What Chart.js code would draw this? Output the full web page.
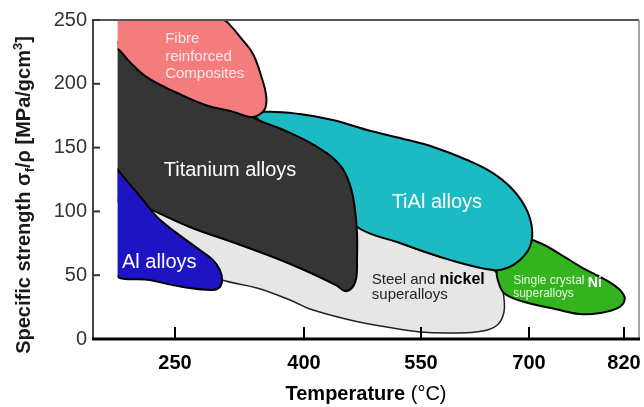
<!DOCTYPE html>
<html>
<head>
<meta charset="utf-8">
<script src="https://cdn.jsdelivr.net/npm/chart.js@4.4.1/dist/chart.umd.min.js"></script>
<style>
html,body{margin:0;padding:0;background:#fff;}
canvas{display:block;}
</style>
</head>
<body>
<canvas id="c" width="644" height="407"></canvas>
<script>
// ---------------- DATA (temperature in °C, specific strength in MPa/gcm³) ----------------
const X_TICKS = [250, 400, 550, 700, 820];
const Y_TICKS = [0, 50, 100, 150, 200, 250];
const X_MIN = 150, X_MAX = 840;
const Y_MIN = 0, Y_MAX = 250;
const LEFT_EDGE = 180;   // the regions are cut off at this temperature

// Fibre reinforced composites
const compositesT = [176, 306, 314, 329, 341, 351, 356, 355, 347, 337, 318, 287, 252, 216, 195, 182, 176, 176];
const compositesS = [250, 250, 246, 234, 223, 204.5, 191, 181, 175.5, 174, 178, 183, 193, 205, 217, 226.5, 228, 250];

// Aluminium alloys
const alT = [176, 192.7, 211, 228, 252, 279, 294, 302.3, 304.7, 301, 293, 259.3, 219.5, 176, 176];
const alS = [136, 123, 109, 95.6, 83, 69.7, 62, 54, 45.5, 40, 38.4, 40.8, 46.2, 52.5, 136];

// Titanium alloys
const titaniumT = [176, 314, 343, 375.6, 417, 446, 459, 465, 468, 468, 467, 461.5, 452.6, 441, 384, 326, 267, 222, 176, 176];
const titaniumS = [234, 187, 173, 164, 150.5, 136.4, 120.7, 103.4, 83, 62, 47.8, 40, 37.6, 42.3, 58.8, 73.7, 87.8, 101, 113, 234];

// TiAl alloys
const tialT = [343, 354.7, 395, 437, 481, 523, 567, 614, 650, 678, 697, 704, 701, 687.5, 669.4, 650, 590, 523, 468, 420, 343];
const tialS = [174.8, 178, 176.3, 171.6, 163.8, 157.5, 150.5, 140.3, 130, 116.8, 101, 85.4, 72, 62, 55.6, 54, 62, 75.2, 87.8, 116.8, 174.8];

// Single crystal Ni superalloys
const niT = [666.7, 695.6, 714, 739, 768, 795, 814, 821, 813, 790, 764, 733, 694, 666.7, 658, 655.6, 666.7];
const niS = [60.5, 77.6, 75.2, 66.6, 55.6, 47, 39, 31.3, 24.5, 20.4, 19.6, 23.5, 29, 35.3, 43.9, 54, 60.5];

// Steel and nickel superalloys
const steelT = [337, 461.5, 523, 590, 650, 660, 665, 665, 656, 636, 594.4, 548.7, 506, 459, 407.7, 383.7, 345.3, 304.7, 259, 195, 207, 337];
const steelS = [109, 89.3, 75.2, 62, 54, 46.2, 33, 20.4, 11, 6.3, 4.7, 5.5, 9.4, 14.9, 23.5, 30.6, 40, 46.2, 58, 97, 124.6, 109];

// ---------------- scale: hand-drawn (uneven) temperature axis ----------------
const AXIS_STOPS = [150, 250, 400, 550, 700, 820, 840];
const AXIS_STOP_FRAC = [0, 0.1502, 0.3864, 0.6007, 0.7985, 0.9725, 1];

function interp(v, from, to) {
  let i = 1;
  while (i < from.length - 1 && v > from[i]) i++;
  const a = from[i - 1], b = from[i];
  return to[i - 1] + (v - a) * (to[i] - to[i - 1]) / (b - a);
}
class PiecewiseScale extends Chart.LinearScale {
  getPixelForValue(value) {
    if (value === null || value === undefined || isNaN(value)) return NaN;
    return this.getPixelForDecimal(interp(value, AXIS_STOPS, AXIS_STOP_FRAC));
  }
  getValueForPixel(pixel) {
    return interp(this.getDecimalForPixel(pixel), AXIS_STOP_FRAC, AXIS_STOPS);
  }
}
PiecewiseScale.id = 'piecewise';
PiecewiseScale.defaults = Chart.LinearScale.defaults;
Chart.register(PiecewiseScale);

const FONT = "'Liberation Sans', Arial, Helvetica, sans-serif";

function pts(T, S) { return T.map((t, i) => ({ x: t, y: S[i] })); }

function region(label, T, S, fillColor, borderColor, borderWidth) {
  return {
    label,
    data: pts(T, S),
    showLine: true,
    fill: 'shape',
    backgroundColor: fillColor,
    borderColor: borderColor,
    borderWidth: borderWidth,
    pointRadius: 0,
    pointHoverRadius: 0,
    tension: 0.4
  };
}

// region labels: anchor in data units
const REGION_LABELS = [
  { x: 238, y: 235, align: 'left', lineH: 17.5, lines: [
      [['Fibre', '15px', '#fde8e8']],
      [['reinforced', '15px', '#fde8e8']],
      [['Composites', '15px', '#fde8e8']]] },
  { x: 314, y: 131.7, align: 'center', lineH: 20, lines: [[['Titanium alloys', '20px', '#ffffff']]] },
  { x: 572, y: 106.6, align: 'center', lineH: 20, lines: [[['TiAl alloys', '20px', '#ffffff']]] },
  { x: 185.4, y: 59.6, align: 'left', lineH: 20, lines: [[['Al alloys', '20px', '#ffffff']]] },
  { x: 487, y: 46.2, align: 'left', lineH: 14.5, lines: [
      [['Steel and ', '15px', '#222222'], ['nickel', 'bold 16px', '#000000']],
      [['superalloys', '15px', '#222222']]] },
  { x: 678, y: 45.5, align: 'left', lineH: 12.5, lines: [
      [['Single crystal ', '12px', '#e6f7dd'], ['Ni', 'bold 14px', '#ffffff', 2]],
      [['superalloys', '12px', '#e6f7dd']]] }
];

function drawRuns(ctx, runs, x, y, align) {
  let w = 0;
  runs.forEach(r => { ctx.font = r[1] + ' ' + FONT; r.w = ctx.measureText(r[0]).width; w += r.w; });
  let cx = align === 'center' ? x - w / 2 : x;
  runs.forEach(r => {
    ctx.font = r[1] + ' ' + FONT;
    ctx.fillStyle = r[2];
    ctx.fillText(r[0], cx, y + (r[3] || 0));
    cx += r.w;
  });
}

function seg(ctx, x1, y1, x2, y2) { ctx.beginPath(); ctx.moveTo(x1, y1); ctx.lineTo(x2, y2); ctx.stroke(); }

const decor = {
  id: 'decor',
  beforeDatasetsDraw(chart) {
    // regions are cut off sharply at LEFT_EDGE
    const { ctx, chartArea: a, scales: { x } } = chart;
    const xl = x.getPixelForValue(LEFT_EDGE);
    ctx.save();
    ctx.beginPath();
    ctx.rect(xl, a.top, a.right - xl, a.bottom - a.top);
    ctx.clip();
  },
  afterDatasetsDraw(chart) {
    const { ctx, chartArea: a, scales: { x, y } } = chart;
    ctx.restore();
    ctx.save();
    ctx.textBaseline = 'middle';
    ctx.textAlign = 'left';
    REGION_LABELS.forEach(L => {
      const px = x.getPixelForValue(L.x), py = y.getPixelForValue(L.y);
      L.lines.forEach((runs, i) => drawRuns(ctx, runs, px, py + i * L.lineH, L.align));
    });
    // frame
    ctx.lineCap = 'butt';
    ctx.strokeStyle = '#555'; ctx.lineWidth = 2; seg(ctx, a.left, a.top, a.right, a.top);
    ctx.strokeStyle = '#888'; ctx.lineWidth = 1.5; seg(ctx, a.right, a.top, a.right, a.bottom);
    ctx.strokeStyle = '#444'; ctx.lineWidth = 2; seg(ctx, a.left, a.top - 1, a.left, a.bottom);
    // inward ticks
    ctx.strokeStyle = '#000'; ctx.lineWidth = 2;
    X_TICKS.forEach(v => { const p = x.getPixelForValue(v); seg(ctx, p, a.bottom, p, a.bottom - 12); });
    ctx.strokeStyle = '#333'; ctx.lineWidth = 2;
    Y_TICKS.forEach(v => { const p = y.getPixelForValue(v); seg(ctx, a.left, p, a.left + 7, p); });
    ctx.strokeStyle = '#000'; ctx.lineWidth = 3; seg(ctx, a.left - 1, a.bottom, a.right + 1, a.bottom);
    ctx.restore();
  },
  afterDraw(chart) {
    const { ctx, chartArea: a } = chart;
    ctx.save();
    ctx.textBaseline = 'alphabetic';
    ctx.textAlign = 'left';
    // x title
    drawRuns(ctx, [['Temperature', 'bold 20px', '#000'], [' (°C)', '20px', '#000']], (a.left + a.right) / 2, 400, 'center');
    // y title (rotated)
    ctx.translate(30, 195);
    ctx.rotate(-Math.PI / 2);
    drawRuns(ctx, [
      ['Specific strength σ', 'bold 20px', '#1a1a1a'],
      ['f', 'bold 13px', '#1a1a1a', 4],
      ['/ρ [MPa/gcm', 'bold 20px', '#1a1a1a'],
      ['3', 'bold 13px', '#1a1a1a', -8],
      [']', 'bold 20px', '#1a1a1a']
    ], 0, 0, 'center');
    ctx.restore();
  }
};

new Chart(document.getElementById('c'), {
  type: 'scatter',
  data: {
    datasets: [
      region('Fibre reinforced Composites', compositesT, compositesS, '#F47C7C', '#000', 2),
      region('Al alloys', alT, alS, '#1E14C4', '#000', 2),
      region('Titanium alloys', titaniumT, titaniumS, '#353535', '#000', 2),
      region('TiAl alloys', tialT, tialS, '#1CBAC2', '#000', 2),
      region('Single crystal Ni superalloys', niT, niS, '#33B41F', '#000', 2),
      region('Steel and nickel superalloys', steelT, steelS, '#E6E6E6', '#222', 1.5)
    ]
  },
  options: {
    responsive: false,
    animation: false,
    devicePixelRatio: 1,
    layout: { padding: { left: 0, right: 5, top: 20, bottom: 0 } },
    plugins: { legend: { display: false }, tooltip: { enabled: false } },
    events: [],
    scales: {
      x: {
        type: 'piecewise',
        min: X_MIN, max: X_MAX,
        afterBuildTicks: s => { s.ticks = X_TICKS.map(v => ({ value: v })); },
        afterFit: s => { s.height = 68; s.paddingLeft = 0; s.paddingRight = 0; },
        ticks: { autoSkip: false, maxRotation: 0, padding: 12, color: '#000',
                 font: { family: FONT, size: 20, weight: 'bold' }, callback: v => String(v) },
        grid: { display: false, drawTicks: false, tickLength: 0 },
        border: { display: false }
      },
      y: {
        type: 'linear',
        min: Y_MIN, max: Y_MAX,
        afterBuildTicks: s => { s.ticks = Y_TICKS.map(v => ({ value: v })); },
        afterFit: s => { s.width = 93; s.paddingTop = 0; s.paddingBottom = 0; },
        ticks: { padding: 6, color: '#333', font: { family: FONT, size: 20 }, callback: v => String(v) },
        grid: { display: false, drawTicks: false, tickLength: 0 },
        border: { display: false }
      }
    }
  },
  plugins: [decor]
});
</script>
</body>
</html>
